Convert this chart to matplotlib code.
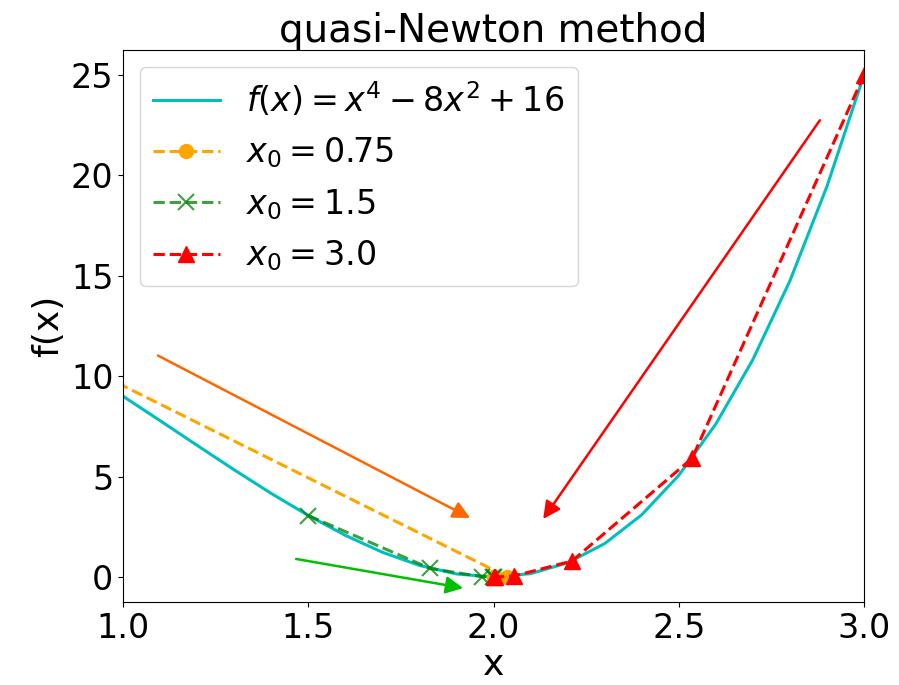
import numpy as np
import matplotlib
matplotlib.use("Agg")
import matplotlib.pyplot as plt

# objective sampled on a coarse grid
x_grid = np.arange(0.5, 3.001, 0.1)
f_grid = x_grid**4 - 8 * x_grid**2 + 16

# iterates of the quasi-Newton runs
start_labels = ["0.75", "1.5", "3.0"]
iter_x_075 = [0.75, 2.036, 2.002, 2.000]
iter_x_15 = [1.5, 1.829, 1.969, 1.998, 2.000]
iter_x_30 = [3.0, 2.536, 2.212, 2.055, 2.004, 2.000]


def f(x):
    x = np.asarray(x)
    return x**4 - 8 * x**2 + 16


fig = plt.figure(figsize=(8.99, 6.85), dpi=100)
ax = fig.add_axes([0.137, 0.121, 0.824, 0.806])

ax.plot(x_grid, f_grid, color="c", lw=2.2, label=r"$f(x) = x^4 - 8x^2 + 16$")
ax.plot(iter_x_075, f(iter_x_075), "--o", color="orange", lw=2.2, ms=10,
        label=r"$x_0 = $" + start_labels[0])
ax.plot(iter_x_15, f(iter_x_15), "--x", color="green", alpha=0.75, lw=2.2, ms=11,
        mew=1.5, label=r"$x_0 = $" + start_labels[1])
ax.plot(iter_x_30, f(iter_x_30), "--^", color="red", lw=2.2, ms=11,
        label=r"$x_0 = $" + start_labels[2])

# arrows pointing at the paths toward the minimum
arrows = [
    ((1.094, 11.03), (1.937, 2.94), "#ff6600"),
    ((2.881, 22.75), (2.134, 2.89), "red"),
    ((1.467, 0.90), (1.918, -0.55), "#00c000"),
]
for (x0, y0), (x1, y1), col in arrows:
    ax.annotate("", xy=(x1, y1), xytext=(x0, y0),
                arrowprops=dict(arrowstyle="-|>", color=col, lw=1.8,
                                mutation_scale=26, shrinkA=0, shrinkB=0))

ax.set_xlim(1.0, 3.0)
ax.set_ylim(-1.25, 26.25)
ax.set_xticks([1.0, 1.5, 2.0, 2.5, 3.0])
ax.set_yticks([0, 5, 10, 15, 20, 25])
ax.tick_params(labelsize=24)
ax.set_xlabel("x", fontsize=26, labelpad=2)
ax.set_ylabel("f(x)", fontsize=26)
ax.set_title("quasi-Newton method", fontsize=28, pad=5)
ax.legend(loc="upper left", fontsize=24)

fig.savefig("out.png", dpi=100)
